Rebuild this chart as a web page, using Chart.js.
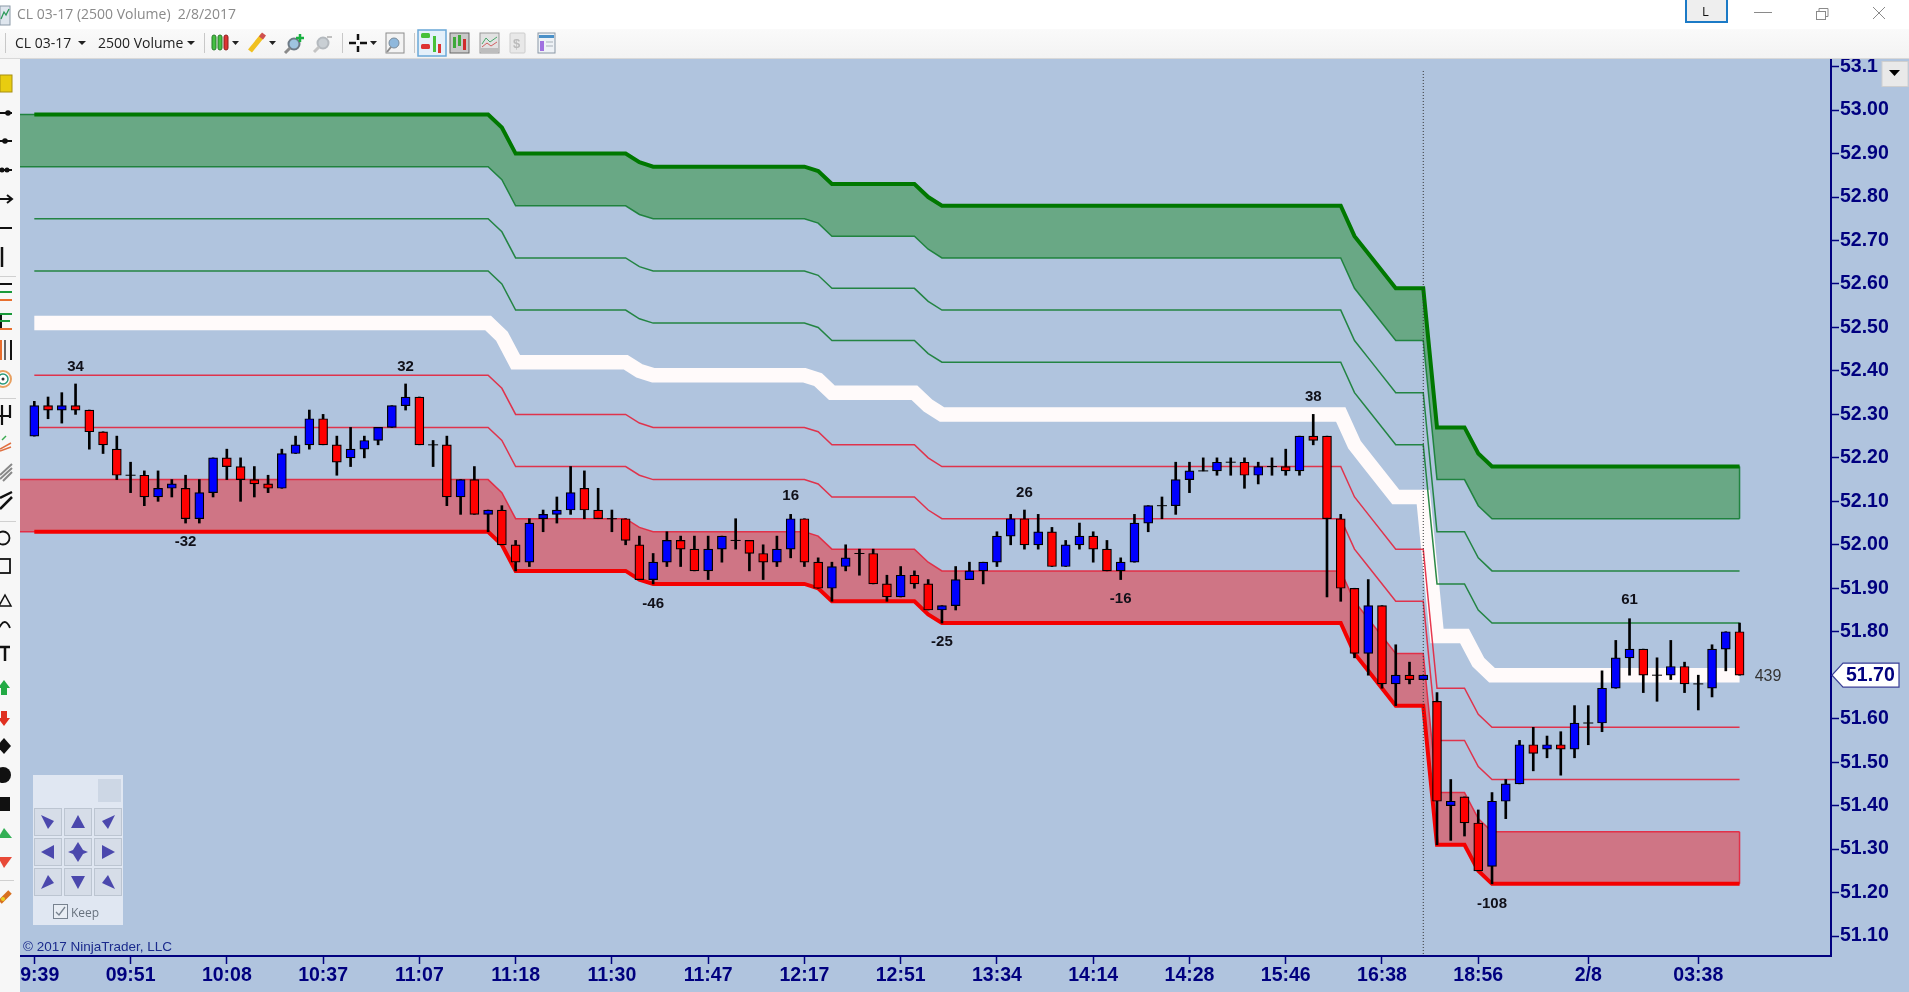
<!DOCTYPE html>
<html>
<head>
<meta charset="utf-8">
<title>CL 03-17 (2500 Volume) 2/8/2017</title>
<script src="https://cdn.jsdelivr.net/npm/chart.js@4/dist/chart.umd.min.js"></script>
<style>
html, body { margin: 0; padding: 0; background: #fff; overflow: hidden; }
#page { position: relative; width: 1909px; height: 992px; overflow: hidden; font-family: "Open Sans", "Noto Sans", sans-serif; }
#plotbg { position: absolute; left: 20px; top: 59px; width: 1889px; height: 933px; background: #b0c4de; }
#chart { position: absolute; left: 20px; top: 59px; }
#toolbar { position: absolute; left: 0; top: 29px; width: 1909px; height: 30px; background: linear-gradient(#fafafa, #f3f3f3); border-bottom: 1px solid #d8d8d8; box-sizing: border-box; }
#sidebar { position: absolute; left: 0; top: 59px; width: 20px; height: 933px; background: #f7f7f7; }
.txt { position: absolute; white-space: pre; }
#icons { position: absolute; left: 0; top: 0; }
</style>
</head>
<body>
<div id="page">
  <div id="plotbg"></div>
  <canvas id="chart" width="1889" height="933"></canvas>
  <div id="toolbar"></div>
  <div id="sidebar"></div>
  <svg id="icons" width="1909" height="992" xmlns="http://www.w3.org/2000/svg">
    <!-- title bar -->
    <rect x="0" y="6" width="10" height="19" fill="#dfe6ee" stroke="#8b9aa8"/>
    <path d="M1 19 L4 12 L6 15 L9 9" fill="none" stroke="#2c9a5a" stroke-width="1.3"/>
    <rect x="1686" y="-2" width="41" height="24" fill="#eeeeee" stroke="#1b7ac6" stroke-width="2"/>
    <path d="M1754 12.5 H1772" stroke="#8a8a8a" stroke-width="1"/>
    <rect x="1816.5" y="11.5" width="9" height="8" fill="none" stroke="#8a8a8a"/>
    <path d="M1819 11.5 V8.5 H1828 V16.5 H1825.5" fill="none" stroke="#8a8a8a"/>
    <path d="M1873 7 L1885 19 M1885 7 L1873 19" stroke="#8a8a8a" stroke-width="1"/>
    <!-- toolbar -->
    <path d="M5.5 33 V53 M204.5 33 V53 M342.5 33 V53 M414.5 33 V53" stroke="#c8c8c8"/>
    <path d="M78 41 h8 l-4 4 z M187 41 h8 l-4 4 z M232 41 h7 l-3.500 4 z M269 41 h7 l-3.500 4 z M370 41 h7 l-3.500 4 z" fill="#222"/>
    <rect x="212" y="35" width="4" height="15" rx="2" fill="#45c043" stroke="#2b7a2b"/>
    <rect x="218" y="35" width="4" height="15" rx="2" fill="#45c043" stroke="#2b7a2b"/>
    <rect x="224" y="35" width="4" height="15" rx="2" fill="#dd3333" stroke="#8a2020"/>
    <path d="M250 51 L263 35" stroke="#f0c020" stroke-width="5"/><path d="M261 38 L264 34" stroke="#d05050" stroke-width="5"/>
    <circle cx="294" cy="44" r="5.500" fill="#9fc4e0" stroke="#6d7a86" stroke-width="2"/><path d="M290 48 L285 53" stroke="#8a8a8a" stroke-width="3"/><path d="M300 34 v8 M296 38 h8" stroke="#18b040" stroke-width="2.500"/>
    <circle cx="323" cy="43" r="5.500" fill="#c9cfd4" stroke="#b4b9be" stroke-width="2"/><path d="M319 47 L314 52" stroke="#c4c4c4" stroke-width="3"/><path d="M327 37 h5" stroke="#c0c0c0" stroke-width="2"/>
    <path d="M358 34 v6 M358 46 v6 M349 43 h7 M360 43 h7" stroke="#111" stroke-width="2.500"/>
    <rect x="386" y="33" width="18" height="20" fill="#f3f3f3" stroke="#8c8c8c"/><circle cx="394" cy="43" r="5" fill="#8fb8dc" stroke="#7a8b9a"/><path d="M391 47 L387 52" stroke="#8a8a8a" stroke-width="2"/>
    <rect x="418" y="30" width="28" height="26" fill="#e4f0fa" stroke="#6aa8d8" stroke-width="1.500"/>
    <rect x="421" y="33" width="9" height="5" rx="1.500" fill="#47c038"/><rect x="421" y="44" width="9" height="5" rx="1.500" fill="#dd3333"/>
    <rect x="433" y="36" width="3" height="16" fill="#47c038"/><rect x="438" y="44" width="3" height="9" fill="#dd3333"/>
    <rect x="450" y="33" width="19" height="20" fill="#c8c8c8" stroke="#666"/><rect x="453" y="37" width="3" height="11" fill="#3fa93a"/><rect x="458" y="35" width="3" height="11" fill="#3fa93a"/><rect x="463" y="39" width="3" height="11" fill="#d02c2c"/>
    <rect x="480" y="33" width="19" height="20" fill="#e2e2e2" stroke="#999"/><path d="M482 44 L486 38 L490 42 L497 37" fill="none" stroke="#4aa86a"/><path d="M482 47 L487 43 L491 46 L497 42" fill="none" stroke="#d06060"/><rect x="481" y="48" width="17" height="4" fill="#bdbdbd"/>
    <rect x="510" y="33" width="15" height="20" rx="1" fill="#e8e8e8" stroke="#ccc"/><text x="513" y="48" font-size="13" font-weight="bold" fill="#bbb" font-family="Liberation Sans">$</text>
    <rect x="538" y="33" width="17" height="20" fill="#eef2f6" stroke="#8a97a5"/><rect x="539" y="35" width="15" height="3" fill="#4a90c8"/><rect x="540" y="41" width="4" height="10" fill="#a070e0"/><path d="M546 42 h7 M546 46 h7" stroke="#a8b0b8"/>
    <!-- left drawing tools -->
    <rect x="0" y="75" width="12" height="17" fill="#e8cc10" stroke="#a89010"/>
    <path d="M0 113 H12 M0 141 H12 M0 170 H12 M0 199 H12 M0 228 H12" stroke="#111" stroke-width="2"/>
    <circle cx="8" cy="113" r="2.800" fill="#111"/><circle cx="5" cy="141" r="2.800" fill="#111"/><circle cx="2" cy="170" r="2.500" fill="#111"/><circle cx="7" cy="170" r="2.500" fill="#111"/>
    <path d="M7 195 L12 199 L7 203" fill="none" stroke="#111" stroke-width="2"/>
    <path d="M2 247 V267" stroke="#111" stroke-width="2.500"/><path d="M0 276.500 H16" stroke="#d0d0d0"/>
    <path d="M0 284 H12" stroke="#111" stroke-width="2"/><path d="M0 292 H12" stroke="#1a9a3a" stroke-width="2"/><path d="M0 300 H12" stroke="#e87030" stroke-width="2"/>
    <path d="M1 313 V330" stroke="#111" stroke-width="2"/><path d="M0 314 H12 M0 321 H10" stroke="#1a9a3a" stroke-width="2"/><path d="M0 329 H12" stroke="#e87030" stroke-width="2"/>
    <path d="M1 340 V360" stroke="#e87030" stroke-width="2"/><path d="M5 340 V360" stroke="#666" stroke-width="2"/><path d="M11 340 V360" stroke="#111" stroke-width="2"/>
    <circle cx="3" cy="379" r="8" fill="#fff" stroke="#e8a060" stroke-width="2"/><circle cx="3" cy="379" r="5" fill="#fff" stroke="#2a9a7a" stroke-width="1.500"/><circle cx="3" cy="379" r="1.500" fill="#333"/>
    <path d="M0 398.500 H16" stroke="#d0d0d0"/>
    <path d="M2 405 V425 M10 405 V418 M0 416 H10" stroke="#111" stroke-width="2.200"/>
    <path d="M0 449 L11 443 M0 451 L11 447" stroke="#e07040" stroke-width="1.500"/><path d="M2 440 L6 436" stroke="#3aaa50" stroke-width="1.500"/>
    <path d="M0 475 L12 464 M0 479 L12 468 M3 481 L12 472" stroke="#888" stroke-width="2"/>
    <path d="M0 498 L12 492 M0 509 L12 497" stroke="#111" stroke-width="2.500"/><path d="M0 521.500 H16" stroke="#d0d0d0"/>
    <circle cx="3" cy="538" r="6.500" fill="none" stroke="#111" stroke-width="1.800"/>
    <rect x="-2" y="559" width="12" height="14" fill="none" stroke="#111" stroke-width="1.800"/>
    <path d="M-1 606 L5 595 L11 606 Z" fill="none" stroke="#111" stroke-width="1.500"/>
    <path d="M-1 628 Q5 616 10 628" fill="none" stroke="#111" stroke-width="1.800"/>
    <path d="M0 647 H10 M5 647 V661" stroke="#111" stroke-width="2.500"/>
    <path d="M4 680 L10 688 H7 V695 H1 V688 H-2 Z" fill="#22aa44"/><path d="M4 726 L10 718 H7 V711 H1 V718 H-2 Z" fill="#e03020"/>
    <path d="M4 738 L11 746 L4 754 L-3 746 Z" fill="#111"/>
    <circle cx="3" cy="775" r="8" fill="#111"/>
    <rect x="-2" y="797" width="12" height="14" fill="#111"/>
    <path d="M-2 838 L4 828 L12 838 Z" fill="#33b055"/><path d="M-2 857 H12 L4 868 Z" fill="#e84a38"/>
    <path d="M0 880.500 H14" stroke="#d0d0d0"/>
    <path d="M0 902 L10 892" stroke="#d87020" stroke-width="5"/><circle cx="3" cy="899" r="2" fill="#e8d020"/>
    <!-- nudge panel -->
    <rect x="33" y="775" width="90" height="150" fill="#e0e7f2"/>
    <rect x="98" y="779" width="23" height="23" fill="#cdd7e5"/>
    <g fill="#d6dde8" stroke="#bcc5d1">
      <rect x="34.500" y="808.500" width="27" height="27"/><rect x="64.500" y="808.500" width="27" height="27"/><rect x="94.500" y="808.500" width="27" height="27"/>
      <rect x="34.500" y="838.500" width="27" height="27"/><rect x="64.500" y="838.500" width="27" height="27"/><rect x="94.500" y="838.500" width="27" height="27"/>
      <rect x="34.500" y="868.500" width="27" height="27"/><rect x="64.500" y="868.500" width="27" height="27"/><rect x="94.500" y="868.500" width="27" height="27"/>
    </g>
    <g fill="#4b48ad">
      <path d="M41 815 L54 821 L48 829 Z"/><path d="M78 815 L85 828 H71 Z"/><path d="M115 815 L102 821 L108 829 Z"/>
      <path d="M41 852 L54 845 V859 Z"/><path d="M78 842 L83 850 L88 852 L83 854 L78 862 L73 854 L68 852 L73 850 Z"/><path d="M115 852 L102 845 V859 Z"/>
      <path d="M41 889 L48 875 L54 883 Z"/><path d="M78 889 L71 876 H85 Z"/><path d="M115 889 L108 875 L102 883 Z"/>
    </g>
    <rect x="53.500" y="904.500" width="14" height="14" fill="#e8edf4" stroke="#77828f"/>
    <path d="M56 912 L59 915 L65 907" fill="none" stroke="#77828f" stroke-width="1.300"/>
    <!-- price axis menu button -->
    <rect x="1882" y="61.500" width="26" height="25" fill="#e9e9e9" stroke="#cfcfcf"/>
    <path d="M1889 70 H1900 L1894.500 76 Z" fill="#000"/>
  </svg>
  <div class="txt" style="left:17px;top:4px;font-size:14px;color:#8a8a8a;">CL 03-17 (2500 Volume)  2/8/2017</div>
  <div class="txt" style="left:1702px;top:2px;font-size:13px;color:#111;">L</div>
  <div class="txt" style="left:15px;top:33px;font-size:14px;color:#222;">CL 03-17</div>
  <div class="txt" style="left:98px;top:33px;font-size:14px;color:#222;">2500 Volume</div>
  <div class="txt" style="left:71px;top:904px;font-size:12px;color:#68727e;">Keep</div>
  <div class="txt" style="left:23px;top:939px;font-size:13.500px;color:#1a2a8c;font-family:'Liberation Sans';">© 2017 NinjaTrader, LLC</div>
</div>
<script>
// bar by bar prices, index 0 = 09:39
const opens = [
  52.25,52.32,52.31,52.32,52.31,52.26,52.22,52.16,52.16,52.11,
  52.13,52.13,52.06,52.12,52.20,52.18,52.15,52.14,52.13,52.21,
  52.23,52.29,52.23,52.20,52.22,52.24,52.27,52.32,52.34,52.23,
  52.23,52.11,52.15,52.07,52.08,52.00,51.96,52.06,52.07,52.08,
  52.13,52.08,52.06,52.06,52.00,51.92,51.96,52.01,51.99,51.94,
  51.99,52.01,52.01,51.98,51.96,51.99,52.06,51.96,51.90,51.95,
  51.98,51.98,51.91,51.88,51.93,51.91,51.85,51.86,51.92,51.94,
  51.96,52.02,52.06,52.00,52.03,51.95,52.00,52.02,51.99,51.94,
  51.96,52.05,52.09,52.09,52.15,52.17,52.17,52.19,52.19,52.16,
  52.18,52.18,52.17,52.25,52.25,52.06,51.90,51.75,51.86,51.68,
  51.70,51.69,51.64,51.40,51.42,51.36,51.26,51.41,51.45,51.54,
  51.53,51.54,51.53,51.59,51.59,51.67,51.74,51.76,51.70,51.70,
  51.72,51.68,51.67,51.76,51.80];
const closes = [
  52.32,52.31,52.32,52.31,52.26,52.23,52.16,52.16,52.11,52.13,
  52.14,52.06,52.12,52.20,52.18,52.15,52.14,52.13,52.21,52.23,
  52.29,52.23,52.19,52.22,52.24,52.27,52.32,52.34,52.23,52.23,
  52.11,52.15,52.07,52.08,52.00,51.96,52.05,52.07,52.08,52.12,
  52.08,52.06,52.06,52.01,51.92,51.96,52.01,51.99,51.94,51.99,
  52.02,52.01,51.98,51.96,51.99,52.06,51.96,51.90,51.95,51.97,
  51.98,51.91,51.88,51.93,51.91,51.85,51.86,51.92,51.94,51.96,
  52.02,52.06,52.00,52.03,51.95,52.00,52.02,51.99,51.94,51.96,
  52.05,52.09,52.09,52.15,52.17,52.17,52.19,52.19,52.16,52.18,
  52.18,52.17,52.25,52.24,52.06,51.90,51.75,51.86,51.68,51.70,
  51.69,51.70,51.41,51.41,51.36,51.25,51.41,51.45,51.54,51.52,
  51.54,51.53,51.59,51.59,51.67,51.74,51.76,51.70,51.70,51.72,
  51.68,51.68,51.76,51.80,51.70];
const highs = [
  52.33,52.34,52.35,52.37,52.31,52.26,52.25,52.19,52.17,52.17,
  52.15,52.16,52.15,52.20,52.22,52.20,52.18,52.16,52.22,52.25,
  52.31,52.30,52.25,52.27,52.25,52.27,52.32,52.37,52.34,52.24,
  52.25,52.15,52.18,52.08,52.09,52.01,52.06,52.08,52.11,52.18,
  52.17,52.13,52.08,52.06,52.02,51.98,52.03,52.02,52.02,52.02,
  52.02,52.06,52.01,52.00,52.02,52.07,52.06,51.97,51.96,52.00,
  51.99,51.99,51.93,51.95,51.94,51.92,51.86,51.95,51.96,51.96,
  52.03,52.07,52.08,52.07,52.04,52.01,52.05,52.03,52.01,51.97,
  52.07,52.09,52.11,52.19,52.19,52.20,52.20,52.20,52.20,52.19,
  52.20,52.22,52.25,52.30,52.25,52.07,51.90,51.92,51.86,51.77,
  51.73,51.70,51.66,51.46,51.42,51.39,51.43,51.46,51.55,51.58,
  51.56,51.57,51.63,51.63,51.71,51.78,51.83,51.76,51.74,51.78,
  51.73,51.70,51.77,51.80,51.82];
const lows = [
  52.25,52.29,52.28,52.30,52.22,52.21,52.15,52.12,52.09,52.10,
  52.11,52.05,52.05,52.11,52.15,52.10,52.11,52.12,52.13,52.21,
  52.22,52.23,52.16,52.18,52.20,52.23,52.27,52.31,52.23,52.18,
  52.09,52.07,52.07,52.03,52.00,51.94,51.95,52.03,52.05,52.07,
  52.06,52.06,52.03,52.00,51.92,51.91,51.95,51.95,51.94,51.92,
  51.96,51.99,51.94,51.92,51.95,51.97,51.95,51.90,51.87,51.94,
  51.93,51.91,51.87,51.88,51.90,51.85,51.82,51.85,51.92,51.91,
  51.95,52.00,51.99,51.99,51.95,51.95,51.99,51.96,51.94,51.92,
  51.96,52.03,52.06,52.07,52.12,52.17,52.16,52.16,52.13,52.14,
  52.16,52.16,52.16,52.23,51.88,51.87,51.74,51.70,51.67,51.63,
  51.68,51.69,51.31,51.32,51.33,51.25,51.22,51.37,51.45,51.48,
  51.51,51.47,51.51,51.54,51.57,51.67,51.70,51.66,51.64,51.69,
  51.66,51.62,51.65,51.71,51.70];

// band levels, read at the bars where the lines bend
const stepBars = [0,33,34,35,43,44,45,56,57,58,64,65,66,95,96,97,99,101,102,104,105,106,124];
const greenTop = [52.99,52.99,52.96,52.90,52.90,52.88,52.87,52.87,52.86,52.83,52.83,52.80,52.78,52.78,52.71,52.67,52.59,52.59,52.27,52.27,52.21,52.18,52.18];
const greenBottom = [52.87,52.87,52.84,52.78,52.78,52.76,52.75,52.75,52.74,52.71,52.71,52.68,52.66,52.66,52.59,52.55,52.47,52.47,52.15,52.15,52.09,52.06,52.06];
const greenLine1 = [52.75,52.75,52.72,52.66,52.66,52.64,52.63,52.63,52.62,52.59,52.59,52.56,52.54,52.54,52.47,52.43,52.35,52.35,52.03,52.03,51.97,51.94,51.94];
const greenLine2 = [52.63,52.63,52.60,52.54,52.54,52.52,52.51,52.51,52.50,52.47,52.47,52.44,52.42,52.42,52.35,52.31,52.23,52.23,51.91,51.91,51.85,51.82,51.82];
const whiteMid = [52.51,52.51,52.48,52.42,52.42,52.40,52.39,52.39,52.38,52.35,52.35,52.32,52.30,52.30,52.23,52.19,52.11,52.11,51.79,51.79,51.73,51.70,51.70];
const redLine1 = [52.39,52.39,52.36,52.30,52.30,52.28,52.27,52.27,52.26,52.23,52.23,52.20,52.18,52.18,52.11,52.07,51.99,51.99,51.67,51.67,51.61,51.58,51.58];
const redLine2 = [52.27,52.27,52.24,52.18,52.18,52.16,52.15,52.15,52.14,52.11,52.11,52.08,52.06,52.06,51.99,51.95,51.87,51.87,51.55,51.55,51.49,51.46,51.46];
const redTop = [52.15,52.15,52.12,52.06,52.06,52.04,52.03,52.03,52.02,51.99,51.99,51.96,51.94,51.94,51.87,51.83,51.75,51.75,51.43,51.43,51.37,51.34,51.34];
const redBottom = [52.03,52.03,52.00,51.94,51.94,51.92,51.91,51.91,51.90,51.87,51.87,51.84,51.82,51.82,51.75,51.71,51.63,51.63,51.31,51.31,51.25,51.22,51.22];

// axes
const timeTickBars = [0,7,14,21,28,35,42,49,56,63,70,77,84,91,98,105,113,121];
const timeTickLabels = ["09:39","09:51","10:08","10:37","11:07","11:18","11:30","11:47","12:17","12:51","13:34","14:14","14:28","15:46","16:38","18:56","2/8","03:38"];
const priceTicks = [53.1,53.0,52.9,52.8,52.7,52.6,52.5,52.4,52.3,52.2,52.1,52.0,51.9,51.8,51.7,51.6,51.5,51.4,51.3,51.2,51.1];

// swing labels
const swingBars = [3,11,27,45,55,66,72,79,93,106,116];
const swingPrices = [52.41,52.006,52.41,51.864,52.112,51.776,52.12,51.876,52.34,51.174,51.873];
const swingTexts = ["34","-32","32","-46","16","-25","26","-16","38","-108","61"];

const cursorBar = 101;
const xMin = -1.04, xMax = 130.65, yMin = 51.054, yMax = 53.1176;
const navy = "#00007f";

const levelPoints = (values, fromEdge) => {
  const pts = stepBars.map((b, i) => ({x: b, y: values[i]}));
  return fromEdge ? [{x: xMin, y: values[0]}].concat(pts) : pts;
};
const lineSet = (values, color, width, order, fromEdge) => ({
  type: "line", data: levelPoints(values, fromEdge), borderColor: color, borderWidth: width,
  pointRadius: 0, tension: 0, fill: false, order: order
});
const lastBar = stepBars[stepBars.length - 1];
const edgeSet = (a, b, color) => ({
  type: "line", data: [{x: lastBar, y: a[a.length - 1]}, {x: lastBar, y: b[b.length - 1]}],
  borderColor: color, borderWidth: 1.5, pointRadius: 0, fill: false, order: 9
});

const thinGreen = "rgba(20,125,50,.9)";
const thinRed = "rgba(228,35,60,.9)";

const datasets = [
  // bands, first so the fills can point at them
  lineSet(greenTop, thinGreen, 1.5, 10, true),
  Object.assign(lineSet(greenBottom, thinGreen, 1.5, 10, true), {fill: {target: 0}, backgroundColor: "rgba(0,128,0,.4)"}),
  lineSet(redTop, thinRed, 1.5, 10, true),
  Object.assign(lineSet(redBottom, thinRed, 1.5, 10, true), {fill: {target: 2}, backgroundColor: "rgba(255,0,0,.4)"}),
  edgeSet(greenTop, greenBottom, thinGreen),
  edgeSet(redTop, redBottom, thinRed),
  lineSet(whiteMid, "#fffafa", 14.5, 8, false),
  lineSet(greenLine1, thinGreen, 1.5, 7, false),
  lineSet(greenLine2, thinGreen, 1.5, 7, false),
  lineSet(redLine1, thinRed, 1.5, 7, false),
  lineSet(redLine2, thinRed, 1.5, 7, false),
  lineSet(greenTop, "#007800", 4, 6, false),
  lineSet(redBottom, "#f40000", 4, 6, false),
  {
    type: "bar", data: highs.map((h, i) => ({x: i, y: [lows[i], h]})),
    backgroundColor: "#000", borderWidth: 0, barThickness: 2, grouped: false, order: 4
  },
  {
    type: "bar", data: opens.map((o, i) => ({x: i, y: [o, closes[i]]})),
    backgroundColor: opens.map((o, i) => closes[i] > o ? "#0000ff" : "#ff0000"),
    borderColor: "#000", borderWidth: 1.2, borderSkipped: false, barThickness: 9, grouped: false, order: 3
  },
  {
    // open = close bars are just a flat dash
    type: "scatter", showLine: false,
    data: opens.map((o, i) => ({x: i, y: o, flat: o === closes[i]})).filter(p => p.flat),
    pointStyle: "line", pointRadius: 5, pointBorderColor: "#000", pointBorderWidth: 1, order: 2
  },
  {
    type: "line", data: [{x: cursorBar, y: 53.09}, {x: cursorBar, y: yMin}],
    borderColor: "#333", borderWidth: 1, borderDash: [1, 2], pointRadius: 0, fill: false, order: 1
  }
];

// swing numbers, bar count and last price flag
const chartText = {
  id: "chartText",
  afterDatasetsDraw(chart) {
    const {ctx, scales: {x, y}} = chart;
    ctx.save();
    ctx.textAlign = "center";
    ctx.textBaseline = "middle";
    ctx.fillStyle = "#101018";
    ctx.font = "bold 15px 'Liberation Sans'";
    swingTexts.forEach((t, i) => ctx.fillText(t, x.getPixelForValue(swingBars[i]), y.getPixelForValue(swingPrices[i])));
    ctx.font = "16px 'Liberation Sans'";
    ctx.fillStyle = "#333";
    ctx.fillText("439", x.getPixelForValue(126.07), y.getPixelForValue(closes[closes.length - 1]) + 1);
    ctx.restore();
  },
  afterDraw(chart) {
    const {ctx, chartArea, scales: {y}} = chart;
    const py = y.getPixelForValue(closes[closes.length - 1]);
    const left = chartArea.right + 1;
    ctx.save();
    ctx.beginPath();
    ctx.moveTo(left, py);
    ctx.lineTo(left + 11, py - 12);
    ctx.lineTo(left + 67, py - 12);
    ctx.lineTo(left + 67, py + 12);
    ctx.lineTo(left + 11, py + 12);
    ctx.closePath();
    ctx.fillStyle = "#fff";
    ctx.fill();
    ctx.strokeStyle = "#3a3f96";
    ctx.lineWidth = 1.2;
    ctx.stroke();
    ctx.fillStyle = navy;
    ctx.font = "bold 19.5px 'Liberation Sans'";
    ctx.textAlign = "left";
    ctx.textBaseline = "middle";
    ctx.fillText("51.70", left + 14, py);
    ctx.restore();
  }
};

new Chart(document.getElementById("chart").getContext("2d"), {
  type: "line",
  data: {datasets: datasets},
  plugins: [chartText],
  options: {
    responsive: false,
    animation: false,
    layout: {padding: 0, autoPadding: false},
    plugins: {legend: {display: false}, tooltip: {enabled: false}, title: {display: false}},
    scales: {
      x: {
        type: "linear", min: xMin, max: xMax, offset: false,
        afterBuildTicks(scale) { scale.ticks = timeTickBars.map(v => ({value: v})); },
        // fixed size, and no room kept for the clipped first label
        afterFit(scale) { scale.height = 36; scale.paddingLeft = 0; scale.paddingRight = 0; },
        grid: {display: true, offset: false, drawOnChartArea: false, drawTicks: true, tickLength: 8, tickColor: navy, tickWidth: 1.5},
        border: {display: true, color: navy, width: 2},
        ticks: {
          autoSkip: false, maxRotation: 0, minRotation: 0, padding: 0, color: navy,
          font: {family: "'Liberation Sans'", size: 19.5, weight: "bold"},
          callback: v => timeTickLabels[timeTickBars.indexOf(v)]
        }
      },
      y: {
        type: "linear", position: "right", min: yMin, max: yMax,
        afterBuildTicks(scale) { scale.ticks = priceTicks.map(v => ({value: v})); },
        afterFit(scale) { scale.width = 78; scale.paddingTop = 0; scale.paddingBottom = 0; },
        grid: {display: true, drawOnChartArea: false, drawTicks: true, tickLength: 8, tickColor: navy, tickWidth: 1.5},
        border: {display: true, color: navy, width: 2},
        ticks: {
          autoSkip: false, padding: 1, color: navy,
          font: {family: "'Liberation Sans'", size: 19.5, weight: "bold"},
          // the top label is cut short by the menu button
          callback: v => v > 53.05 ? v.toFixed(1) : v.toFixed(2)
        }
      }
    }
  }
});
</script>
</body>
</html>
